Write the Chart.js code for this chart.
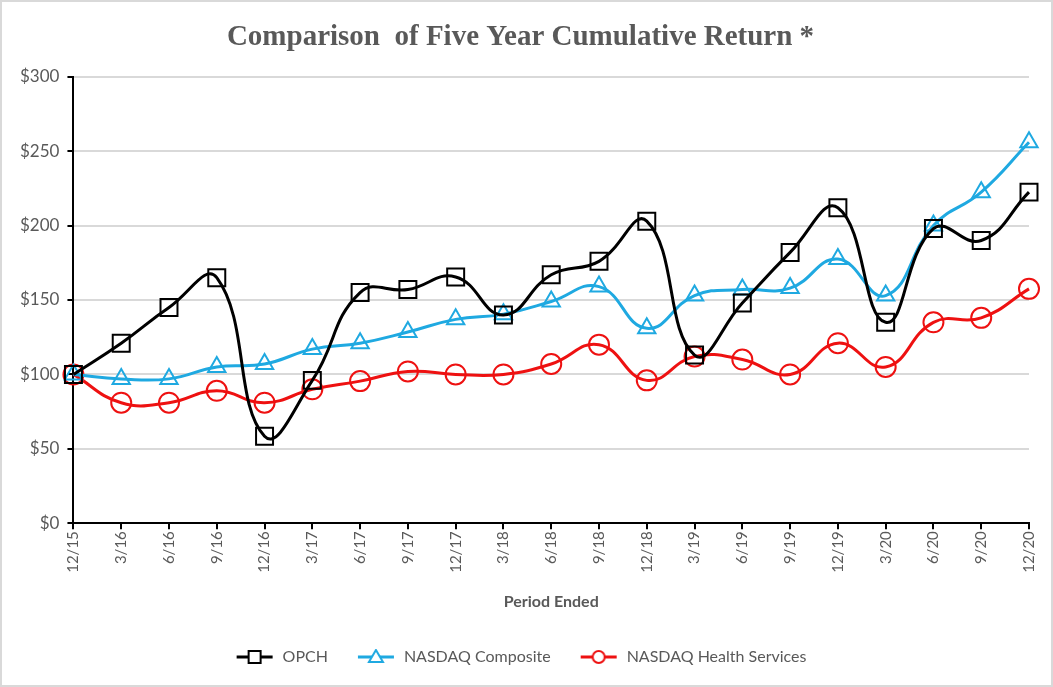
<!DOCTYPE html>
<html>
<head>
<meta charset="utf-8">
<script src="https://cdn.jsdelivr.net/npm/chart.js@4"></script>
<style>
    html, body { margin: 0; padding: 0; background: #fff; }
    #wrap { position: absolute; left: 0; top: 0; width: 1053px; height: 687px; box-sizing: border-box; border: 2px solid #d9d9d9; }
</style>
</head>
<body>
<div id="wrap"><canvas id="line-chart"></canvas></div>
<script>
    // periods and index values
    const periods = ['12/15', '3/16', '6/16', '9/16', '12/16', '3/17', '6/17', '9/17', '12/17', '3/18', '6/18',
        '9/18', '12/18', '3/19', '6/19', '9/19', '12/19', '3/20', '6/20', '9/20', '12/20'];
    const opch = [100, 121, 145, 165, 58.5, 96, 155, 157, 165.5, 140, 167, 176, 203, 113, 148, 182, 212, 135, 198, 190, 222.5];
    const nasdaqComposite = [100, 97, 97, 105, 107, 117, 121, 128.5, 137, 140.5, 149, 159, 131, 153, 157, 158, 177.5, 153, 200, 222.5, 256];
    const nasdaqHealth = [100, 81, 81, 89, 81, 90, 95.5, 102, 100, 100, 107, 120, 96, 112, 110, 100, 121, 105, 135, 138, 157.5];
    const yTicks = [0, 50, 100, 150, 200, 250, 300];

    const gray = '#595959';
    const font = 'Lato, "Open Sans", sans-serif';

    // little line+marker picture for the legend
    function legendIcon(color, style) {
        let c = document.createElement('canvas');
        c.width = 40;
        c.height = 16;
        let ctx = c.getContext('2d');
        ctx.strokeStyle = color;
        ctx.lineWidth = 3;
        ctx.beginPath();
        ctx.moveTo(2, 8);
        ctx.lineTo(38, 8);
        ctx.stroke();
        ctx.lineWidth = 2;
        ctx.fillStyle = '#fff';
        ctx.beginPath();
        if (style === 'rect') {
            ctx.rect(14, 2, 12, 12);
        } else if (style === 'triangle') {
            ctx.moveTo(20, 1);
            ctx.lineTo(27, 13);
            ctx.lineTo(13, 13);
            ctx.closePath();
        } else {
            ctx.arc(20, 8, 6, 0, Math.PI * 2);
        }
        ctx.fill();
        ctx.stroke();
        return c;
    }

    const seriesStyles = [
        {label: 'OPCH', data: opch, color: '#000000', style: 'rect', radius: 12},
        {label: 'NASDAQ Composite', data: nasdaqComposite, color: '#1fa9e1', style: 'triangle', radius: 10},
        {label: 'NASDAQ Health Services', data: nasdaqHealth, color: '#ee1111', style: 'circle', radius: 10},
    ];

    const datasets = seriesStyles.map(s => ({
        label: s.label,
        data: s.data,
        borderColor: s.color,
        backgroundColor: 'rgba(0,0,0,0)',
        borderWidth: 3,
        tension: 0.45,
        pointStyle: s.style,
        pointRadius: s.radius,
        pointBorderWidth: 2,
        pointBorderColor: s.color,
        pointBackgroundColor: 'rgba(0,0,0,0)',
        icon: legendIcon(s.color, s.style),
    }));

    new Chart(document.getElementById('line-chart').getContext('2d'), {
        type: 'line',
        data: {labels: periods, datasets: datasets},
        options: {
            responsive: true,
            maintainAspectRatio: false,
            animation: false,
            layout: {padding: {left: 10, right: 22, top: 4, bottom: 10}},
            plugins: {
                title: {
                    display: true,
                    text: 'Comparison  of Five Year Cumulative Return *',
                    color: gray,
                    font: {family: '"Liberation Serif", serif', size: 29, weight: 'bold'},
                    padding: {top: 14, bottom: 22}
                },
                legend: {
                    position: 'bottom',
                    labels: {
                        usePointStyle: true,
                        pointStyleWidth: 40,
                        padding: 28,
                        color: gray,
                        font: {family: font, size: 16},
                        generateLabels: chart => chart.data.datasets.map((ds, i) => ({
                            text: ds.label,
                            pointStyle: ds.icon,
                            fontColor: gray,
                            datasetIndex: i,
                            hidden: false,
                            lineWidth: 0,
                        }))
                    }
                },
                tooltip: {enabled: false}
            },
            scales: {
                x: {
                    offset: false,
                    border: {color: '#000', width: 2},
                    grid: {drawOnChartArea: false, tickColor: '#000', tickLength: 6, lineWidth: 2},
                    ticks: {color: gray, font: {family: font, size: 15}, minRotation: 90, maxRotation: 90, padding: 2},
                    title: {display: true, text: 'Period Ended', color: gray, font: {family: font, size: 16, weight: 'bold'}, padding: {top: 17, bottom: 10}}
                },
                y: {
                    min: 0,
                    max: 300,
                    afterBuildTicks: axis => { axis.ticks = yTicks.map(v => ({value: v})); },
                    border: {color: '#000', width: 2},
                    grid: {color: '#d9d9d9', lineWidth: 2, tickColor: '#000', tickLength: 6},
                    ticks: {color: gray, font: {family: font, size: 17}, padding: 8, callback: v => '$' + v}
                }
            }
        }
    });
</script>
</body>
</html>
